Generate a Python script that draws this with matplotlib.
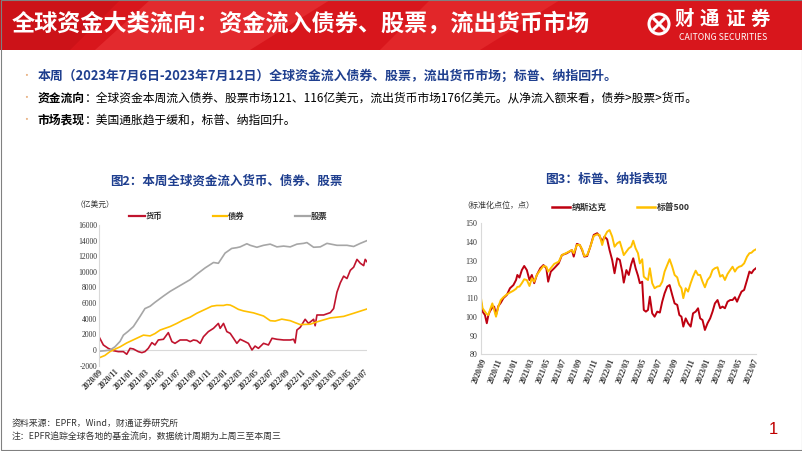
import matplotlib
matplotlib.use('Agg')
import matplotlib.pyplot as plt
import matplotlib.patches as mpatches
from matplotlib.lines import Line2D
import pandas as pd

plt.rcParams['font.family'] = ['Noto Sans CJK SC', 'DejaVu Sans']

# ---------------- data ----------------
base_date = '2020-09-01'   # day offsets below are days since this date

money_days = [0, 17, 36, 56, 75, 95, 108, 121, 134, 153, 167, 179, 192, 206, 218, 231, 251, 270,
              284, 296, 316, 342, 355, 368, 381, 394, 407, 426, 446, 465, 472, 485, 498, 511, 524,
              537, 550, 569, 582, 596, 608, 621, 641, 660, 674, 693, 719, 745, 758, 764, 771, 784,
              803, 816, 836, 842, 849, 875, 901, 914, 927, 940, 953, 966, 979, 992, 1005, 1018,
              1031, 1037, 1044]
money_vals = [1700, 640, 210, -90, -210, -210, -550, 210, 130, -210, -340, -210, 210, 940, 640, 1280,
              1370, 2220, 1070, 850, 1280, 1280, 1070, 1280, 1200, 850, 1700, 2350, 2770, 3400, 2770,
              3400, 2350, 2130, 1500, 850, 1370, 1070, 850, 0, 500, 210, 850, 640, 1500, 1370, 1280,
              1280, 1370, 900, 2560, 2900, 3930, 3400, 3930, 3100, 4480, 4480, 4780, 5300, 7400, 8600,
              9450, 9150, 10200, 10600, 11600, 11100, 10800, 11600, 11300]

bond_days = [1, 23, 43, 62, 82, 108, 134, 173, 199, 218, 238, 277, 303, 329, 355, 381, 420, 439, 459,
             485, 498, 511, 524, 543, 563, 602, 641, 667, 686, 712, 745, 764, 784, 823, 849, 875, 901,
             953, 992, 1044]
bond_vals = [-1000, -700, -200, 100, 400, 900, 1300, 1900, 1800, 2100, 2550, 3000, 3400, 3850, 4200,
             4700, 5300, 5600, 5700, 5700, 5800, 5750, 5550, 5200, 5000, 4750, 4350, 3750, 3700, 3950,
             3750, 3500, 3250, 3300, 3600, 3850, 4100, 4300, 4700, 5250]

equity_days = [4, 23, 43, 62, 82, 95, 114, 134, 160, 179, 199, 218, 251, 277, 303, 329, 355, 381, 413,
               446, 465, 475, 491, 517, 537, 550, 576, 589, 615, 641, 667, 693, 719, 745, 771, 797,
               810, 836, 862, 888, 927, 966, 992, 1018, 1044]
equity_vals = [-150, -100, 0, 400, 1100, 1900, 2400, 3000, 4300, 5300, 5600, 6100, 6900, 7500, 8000,
               8500, 9000, 9700, 10500, 11200, 11100, 11600, 12400, 13000, 13100, 13200, 13600, 13400,
               13150, 13400, 13550, 13200, 13300, 13200, 13550, 13650, 13750, 13150, 13200, 13650,
               13400, 13400, 13250, 13650, 14000]

index_days = [0, 6, 15, 22, 28, 34, 43, 50, 57, 66, 75, 85, 98, 110, 123, 133, 138, 146, 155, 164,
              174, 184, 193, 202, 212, 225, 237, 248, 255, 265, 278, 295, 307, 326, 345, 352, 364,
              375, 384, 392, 403, 415, 428, 441, 450, 460, 469, 479, 488, 498, 507, 517, 527, 536,
              542, 552, 561, 570, 578, 587, 596, 603, 612, 618, 626, 634, 641, 650, 659, 669, 679,
              688, 697, 707, 716, 726, 735, 745, 753, 761, 768, 777, 786, 796, 805, 815, 824, 832,
              841, 850, 860, 870, 879, 888, 898, 908, 917, 926, 936, 946, 955, 964, 972, 980, 989,
              999, 1010, 1019, 1027, 1035, 1044]
nasdaq_vals = [108, 102.8, 101, 96.6, 101, 103, 105, 105.5, 101, 105.8, 107.5, 110, 111.7, 115.3, 117,
               119.7, 122.4, 121, 125, 127.2, 125, 119.7, 122.4, 118, 122.4, 126, 127.7, 126, 118.8,
               124.2, 126, 128.6, 133, 134, 135.7, 132.2, 139, 138.4, 135.7, 132.2, 132.5, 137.5,
               143.8, 144.7, 143.2, 140.2, 142.9, 141.4, 135.7, 130.4, 123.3, 131.3, 130.4, 124.2,
               118.3, 125, 122.4, 128, 131.3, 126, 122, 118, 118.8, 103.7, 102.8, 103.7, 110.8, 101.9,
               100.1, 102.8, 102.3, 108.1, 112.6, 116.2, 117, 111.7, 107.2, 106.4, 101, 100.1, 94.8,
               99.2, 96.6, 94.8, 101.9, 102.8, 104.6, 99.2, 98.3, 93, 96.6, 99.2, 102.8, 107.2, 109,
               104.6, 105.5, 104.6, 108.1, 109, 109, 110.5, 108.1, 110.8, 113.5, 114.4, 119.7, 124.2,
               123.3, 125, 126]
spx_vals = [110, 104.6, 102.8, 101.5, 101, 103.7, 107.2, 103.7, 100.1, 105.5, 109, 110.5, 112, 113,
            114, 115, 116, 116.2, 118, 120.1, 119.7, 116.5, 120.6, 118.8, 122.4, 125, 127.2, 126.8,
            124.2, 126, 128.3, 129.5, 133, 134.3, 135.7, 134, 138.4, 138.4, 136.1, 132.5, 133, 137.5,
            143.2, 144.1, 143.8, 138.4, 142.9, 145.5, 146.4, 142.9, 137.5, 139.3, 140.2, 136, 133,
            134.9, 136.6, 137.5, 140.7, 136.6, 134, 128.6, 130.8, 121.5, 120.5, 119.7, 126, 118,
            115.3, 116.2, 116.5, 118.8, 124.2, 127.7, 130.8, 126.8, 122.4, 121.1, 117, 115.3, 110,
            115.3, 113.5, 118, 121.5, 124.7, 122.4, 122.4, 118.8, 115.8, 119.7, 121.5, 125, 126,
            126.5, 121.5, 122.4, 119.7, 122.9, 125, 126.8, 124.2, 126, 126.8, 127.2, 128.6, 132.2,
            134, 134.3, 135.4, 136.1]

x_tick_labels = ['2020/09', '2020/11', '2021/01', '2021/03', '2021/05', '2021/07', '2021/09',
                 '2021/11', '2022/01', '2022/03', '2022/05', '2022/07', '2022/09', '2022/11',
                 '2023/01', '2023/03', '2023/05', '2023/07']
fund_yticks = [-2000, 0, 2000, 4000, 6000, 8000, 10000, 12000, 14000, 16000]
index_yticks = [80, 90, 100, 110, 120, 130, 140, 150]

fund_names = ['货币', '债券', '股票']
index_names = ['纳斯达克', '标普500']

header_title = '全球资金大类流向：资金流入债券、股票，流出货币市场'
bullet1 = '本周（2023年7月6日-2023年7月12日）全球资金流入债券、股票，流出货币市场；标普、纳指回升。'
bullet2_head = '资金流向'
bullet2_body = '：全球资金本周流入债券、股票市场121、116亿美元，流出货币市场176亿美元。从净流入额来看，债券>股票>货币。'
bullet3_head = '市场表现'
bullet3_body = '：美国通胀趋于缓和，标普、纳指回升。'
chart2_title = '图2：本周全球资金流入货币、债券、股票'
chart3_title = '图3：标普、纳指表现'
footer1 = '资料来源：EPFR，Wind，财通证券研究所'
footer2 = '注：EPFR追踪全球各地的基金流向，数据统计周期为上周三至本周三'

# ---------------- helpers ----------------
W, H = 802, 451
fig = plt.figure(figsize=(W / 100, H / 100), dpi=100)


def fx(x):
    return x / W


def fy(y):
    return 1 - y / H


def to_dates(days):
    return pd.Timestamp(base_date) + pd.to_timedelta(days, unit='D')


tick_dates = pd.to_datetime([s.replace('/', '-') + '-01' for s in x_tick_labels])
serif = 'Liberation Serif'
BLUE = '#1F3F8F'

# ---------------- header ----------------
fig.add_artist(mpatches.Rectangle((0, fy(50)), 1, 50 / H, transform=fig.transFigure,
                                  facecolor='#D8161C', edgecolor='none', zorder=0))
for pts, col in [([(150, 0), (330, 0), (250, 50), (95, 50)], '#E32A2E'),
                 ([(430, 0), (560, 0), (480, 50), (380, 50)], '#E22629'),
                 ([(0, 0), (120, 0), (70, 50), (0, 50)], '#CC1218')]:
    fig.add_artist(mpatches.Polygon([(fx(a), fy(b)) for a, b in pts], closed=True,
                                    transform=fig.transFigure, facecolor=col,
                                    edgecolor='none', zorder=0.5))
fig.text(fx(12), fy(25), header_title, color='white', fontsize=16.7, fontweight='bold',
         ha='left', va='center')
# logo
fig.add_artist(mpatches.Ellipse((fx(659), fy(24)), 20 / W, 20 / H, transform=fig.transFigure,
                                facecolor='none', edgecolor='white', lw=2.2, zorder=2))
fig.add_artist(Line2D([fx(654), fx(664)], [fy(19), fy(29)], transform=fig.transFigure,
                      color='white', lw=2.2, zorder=2))
fig.add_artist(Line2D([fx(654), fx(664)], [fy(29), fy(19)], transform=fig.transFigure,
                      color='white', lw=2.2, zorder=2))
for i, ch in enumerate('财通证券'):
    fig.text(fx(684 + i * 25.5), fy(19), ch, color='white', fontsize=14, fontweight='bold',
             ha='center', va='center')
fig.text(fx(723), fy(38), 'CAITONG SECURITIES', color='white', fontsize=6.3,
         ha='center', va='center')

# slide frame
fig.add_artist(mpatches.Rectangle((fx(0.5), fy(450)), 801 / W, 450 / H, transform=fig.transFigure,
                                  facecolor='none', edgecolor='#808080', lw=0.8, zorder=5))

# ---------------- bullets ----------------
for yb in (76, 98, 120):
    fig.text(fx(26), fy(yb), '•', color='#E8B080', fontsize=7, ha='center', va='center')
fig.text(fx(38), fy(76), bullet1, color=BLUE, fontsize=9.3, fontweight='bold',
         ha='left', va='center')
renderer = fig.canvas.get_renderer()
for yb, head, body in [(98, bullet2_head, bullet2_body), (120, bullet3_head, bullet3_body)]:
    t = fig.text(fx(38), fy(yb), head, color='black', fontsize=8.5, fontweight='bold',
                 ha='left', va='center')
    bb = t.get_window_extent(renderer=renderer)
    fig.text(bb.x1 / W, fy(yb), body, color='black', fontsize=8.5, ha='left', va='center')

# ---------------- chart 2 ----------------
fig.text(fx(226), fy(181), chart2_title, color=BLUE, fontsize=9, fontweight='bold',
         ha='center', va='center')
fig.text(fx(76), fy(205), '（亿美元）', color='#333333', fontsize=5.6, ha='left', va='center')

ax1 = fig.add_axes([fx(99), fy(365.6), 268 / W, 140.6 / H])
fund_colors = ['#C0142E', '#FFC000', '#A6A6A6']
for days, vals, col in [(money_days, money_vals, fund_colors[0]),
                        (bond_days, bond_vals, fund_colors[1]),
                        (equity_days, equity_vals, fund_colors[2])]:
    ax1.plot(to_dates(days), vals, color=col, lw=1.2, solid_joinstyle='round')
ax1.axhline(0, color='#D9D9D9', lw=0.8, zorder=0)
ax1.set_xlim(pd.Timestamp('2020-09-01'), pd.Timestamp('2023-07-12'))
ax1.set_ylim(-2000, 16000)
ax1.set_yticks(fund_yticks)
ax1.set_yticklabels([str(v) for v in fund_yticks], fontsize=5.5, family=serif, color='#333333')
ax1.set_xticks(tick_dates)
ax1.set_xticklabels(x_tick_labels, fontsize=5.5, family=serif, fontweight='bold', color='#333333',
                    rotation=45, ha='right', va='top', rotation_mode='anchor')
ax1.tick_params(length=0, pad=1.5)
for s in ('top', 'right', 'bottom'):
    ax1.spines[s].set_visible(False)
ax1.spines['left'].set_color('#D9D9D9')
ax1.spines['left'].set_linewidth(0.8)
ax1.patch.set_alpha(0)

for (x1, x2, xt), name, col in zip([(129, 145, 146), (213, 227, 228), (295, 310, 311)],
                                   fund_names, fund_colors):
    fig.add_artist(Line2D([fx(x1), fx(x2)], [fy(216), fy(216)], transform=fig.transFigure,
                          color=col, lw=1.6))
    fig.text(fx(xt), fy(216), name, fontsize=6, fontweight='bold', color='#333333',
             ha='left', va='center')

# ---------------- chart 3 ----------------
fig.text(fx(606), fy(179), chart3_title, color=BLUE, fontsize=9.2, fontweight='bold',
         ha='center', va='center')
fig.text(fx(462), fy(205), '（标准化点位，点）', color='#333333', fontsize=5.8,
         ha='left', va='center')

ax2 = fig.add_axes([fx(481), fy(354.3), 275 / W, 131 / H])
index_colors = ['#BE0010', '#FFC000']
for vals, col in [(nasdaq_vals, index_colors[0]), (spx_vals, index_colors[1])]:
    ax2.plot(to_dates(index_days), vals, color=col, lw=1.4, solid_joinstyle='round')
ax2.set_xlim(pd.Timestamp('2020-09-01'), pd.Timestamp('2023-07-12'))
ax2.set_ylim(80, 150)
ax2.set_yticks(index_yticks)
ax2.set_yticklabels([str(v) for v in index_yticks], fontsize=5.8, family=serif, color='#333333')
ax2.set_xticks(tick_dates)
ax2.set_xticklabels(x_tick_labels, fontsize=5.8, family=serif, fontweight='bold', color='#333333',
                    rotation=68, ha='right', va='top', rotation_mode='anchor')
ax2.tick_params(length=0, pad=2.5)
for s in ('top', 'right'):
    ax2.spines[s].set_visible(False)
for s in ('left', 'bottom'):
    ax2.spines[s].set_color('#D9D9D9')
    ax2.spines[s].set_linewidth(0.8)
ax2.patch.set_alpha(0)

for (x1, x2, xt), name, col in zip([(552, 570, 572), (637, 655, 657)], index_names, index_colors):
    fig.add_artist(Line2D([fx(x1), fx(x2)], [fy(207), fy(207)], transform=fig.transFigure,
                          color=col, lw=1.8))
    fig.text(fx(xt), fy(207), name, fontsize=6.3, fontweight='bold', color='#333333',
             ha='left', va='center')

# ---------------- footer ----------------
fig.text(fx(12), fy(424), footer1, fontsize=6.4, color='#333333', ha='left', va='center')
fig.text(fx(12), fy(437), footer2, fontsize=6.4, color='#333333', ha='left', va='center')
fig.text(fx(773), fy(430), '1', fontsize=12, color='#C00000', family='Liberation Sans',
         ha='center', va='center')

fig.savefig('out.png', dpi=100)
